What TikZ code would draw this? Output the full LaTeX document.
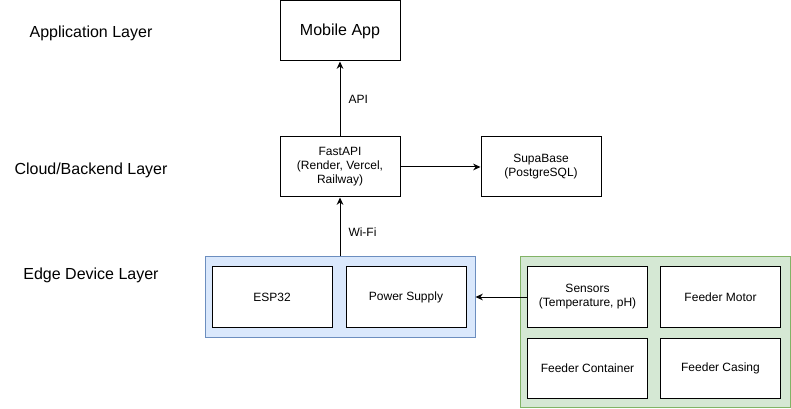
\documentclass[tikz,border=0pt]{standalone}
\usepackage{fontspec}
\setmainfont{Liberation Sans}
\usetikzlibrary{positioning,arrows.meta}
\definecolor{edgefill}{HTML}{DAE8FC}
\definecolor{edgeline}{HTML}{6C8EBF}
\definecolor{hwfill}{HTML}{D5E8D4}
\definecolor{hwline}{HTML}{82B366}

\begin{document}
\begin{tikzpicture}[x=0.75pt,y=-0.75pt,line width=0.75pt,
    every node/.style={inner sep=0pt,align=center,
      font=\fontsize{9}{10.5}\selectfont},
    block/.style={draw,fill=white,minimum width=90pt,minimum height=45pt},
    layer/.style={font=\fontsize{12}{14}\selectfont},
    arr/.style={-{Stealth[length=5.5pt,width=5pt]}}] %
    \useasboundingbox (0,0) rectangle (791,409);%

    % layer names on the left
    \node[layer] (lapp) at (91,33) {Application Layer};%
    \node[layer] (lcloud) at (91,170) {Cloud/Backend Layer};%
    \node[layer] (ledge) at (91,275) {Edge Device Layer};%

    % group backgrounds first so the blocks sit on top
    \node[draw=edgeline,fill=edgefill,minimum width=202.5pt,
      minimum height=60pt] (edge) at (340,297) {};%
    \node[draw=hwline,fill=hwfill,minimum width=202.5pt,
      minimum height=112.5pt] (hw) at (655.5,332) {};%

    \node[block,font=\fontsize{12}{14}\selectfont] (app) at (340,31) {Mobile App};%
    \node[block] (api) at (340,167) {FastAPI\\(Render, Vercel,\\Railway)};%
    \node[block,right=60pt of api] (db) {SupaBase\\(PostgreSQL)};%

    \node[block] (esp) at (272,297) {ESP32};%
    \node[block,right=9.75pt of esp] (power) {Power Supply};%

    \node[block] (sens) at (587.5,297) {Sensors\\(Temperature, pH)};%
    \node[block,right=9pt of sens] (motor) {Feeder Motor};%
    \node[block,below=7.5pt of sens] (cont) {Feeder Container};%
    \node[block,below=7.5pt of motor] (casing) {Feeder Casing};%

    \draw[arr] (api) -- node[right=6pt] {API} (app);%
    \draw[arr] (edge) -- node[pos=0.42,right=6pt] {Wi-Fi} (api);%
    \draw[arr] (api) -- (db);%
    \draw[arr] (sens.west) -- (edge.east);%
  \end{tikzpicture}
\end{document}
